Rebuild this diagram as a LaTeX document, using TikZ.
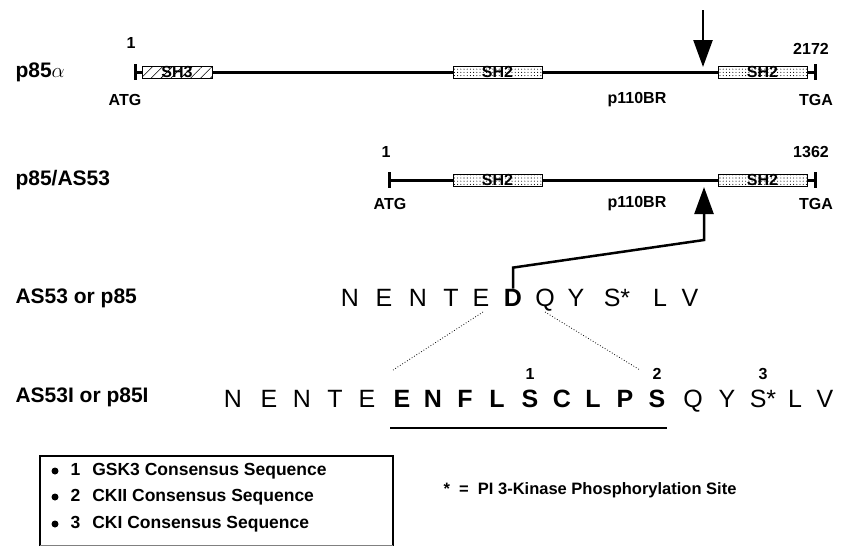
\documentclass[tikz,border=0pt]{standalone}
\usepackage{fontspec}
\setmainfont{Liberation Sans}
\usetikzlibrary{arrows.meta,positioning,patterns.meta}

\begin{document}
\begin{tikzpicture}[x=1pt,y=-1pt,
    gene/.style={line width=3pt},
    dom/.style={draw, line width=0.8pt, minimum width=89pt, minimum height=12pt,
      inner sep=0pt, font=\bfseries\fontsize{16}{16}\selectfont,
      preaction={fill=white}},
    hatch/.style={postaction={pattern={Lines[angle=45,distance=7pt,line width=0.6pt]}}},
    stipple/.style={postaction={pattern={Dots[distance=3.2pt,radius=0.55pt]}}},
    lbl/.style={anchor=west, font=\bfseries\fontsize{21}{21}\selectfont},
    small/.style={font=\bfseries\fontsize{16}{16}\selectfont},
    aa/.style={font=\fontsize{25}{25}\selectfont, inner sep=0pt, anchor=base},
    aab/.style={aa, font=\bfseries\fontsize{25}{25}\selectfont},
    keytext/.style={anchor=west, font=\bfseries\fontsize{17.5}{17.5}\selectfont},
    pointer/.style={-{Triangle[length=27pt,width=19pt]}, line width=2.5pt}
  ]
  \useasboundingbox (0,0) rectangle (842,546);

  % full length p85 alpha
  \node[lbl] (alpha) at (12,72) {p85$\alpha$};
  \coordinate (a-start) at (135,72);
  \coordinate (a-end) at (815,72);
  \draw[gene] (a-start) -- (a-end);
  \draw[gene] (135,64) -- (135,80);
  \draw[gene] (815,64) -- (815,80);
  \node[dom, minimum width=70pt, hatch] (sh3) at (177,72) {SH3};
  \node[dom, stipple] (a-sh2n) at (497.5,72) {SH2};
  \node[dom, stipple] (a-sh2c) at (762.5,72) {SH2};
  \node[small] (a-one) at (131,43) {1};
  \node[small] (a-atg) at (125,100) {ATG};
  \node[small] (a-len) at (811,49) {2172};
  \node[small] (a-tga) at (816,100) {TGA};
  \node[small] (a-br) at (637,100) {p110BR};
  \coordinate (cut-top) at (703,10);
  \coordinate (cut) at (703,67);
  \draw[pointer] (cut-top) -- (cut);

  % splice variant
  \node[lbl] (as53) at (12,180) {p85/AS53};
  \coordinate (b-start) at (389,180);
  \coordinate (b-end) at (815,180);
  \draw[gene] (b-start) -- (b-end);
  \draw[gene] (389,172) -- (389,188);
  \draw[gene] (815,172) -- (815,188);
  \node[dom, stipple] (b-sh2n) at (497.5,180) {SH2};
  \node[dom, stipple] (b-sh2c) at (762.5,180) {SH2};
  \node[small] (b-one) at (386,152) {1};
  \node[small] (b-atg) at (390,204) {ATG};
  \node[small] (b-len) at (811,152) {1362};
  \node[small] (b-tga) at (816,204) {TGA};
  \node[small] (b-br) at (637,204) {p110BR};
  \coordinate (ins) at (704,187);

  % sequences
  \node[lbl] (seq1) at (12,298) {AS53 or p85};
  \foreach \ch/\xx [count=\i] in {N/350,E/384,N/418,T/451,E/481}
    \node[aa] (s\i) at (\xx,306) {\ch};
  \node[aab] (sD) at (513,306) {D};
  \foreach \ch/\xx [count=\i] in {Q/545,Y/576,S*/617,L/660,V/690}
    \node[aa] (t\i) at (\xx,306) {\ch};
  \draw[pointer] (sD.north) -- ++(0,-21) -- (704,240) -- (ins);

  \node[lbl] (seq2) at (12,397) {AS53I or p85I};
  \foreach \ch/\xx [count=\i] in {N/233,E/269,N/302,T/335,E/367}
    \node[aa] (u\i) at (\xx,407) {\ch};
  \foreach \ch/\xx [count=\i] in {E/402,N/433,F/465,L/497,S/530,C/562,L/593,P/625,S/657}
    \node[aab] (v\i) at (\xx,407) {\ch};
  \foreach \ch/\xx [count=\i] in {Q/693,Y/727,S*/763,L/795,V/825}
    \node[aa] (w\i) at (\xx,407) {\ch};
  \draw[line width=2pt] (390,428) -- (667,428);
  \draw[dotted, line width=0.8pt] (s5.base) ++(2,6) -- (393,370);
  \draw[dotted, line width=0.8pt] (t1.base) ++(0,6) -- (640,370);
  \node[small] (site1) at (v5.north) [above=6pt] {1};
  \node[small] (site2) at (v9.north) [above=6pt] {2};
  \node[small] (site3) at (w3.north) [above=6pt] {3};

  % key
  \draw[line width=2.5pt] (40,546) |- (393,456) -- (393,546);
  \draw[line width=0.5pt, gray] (40,545) -- (393,545);
  \foreach \num/\what/\yy in {1/GSK3/471,2/CKII/497,3/CKI/524}{
    \fill (55,\yy) circle (3.5pt);
    \node[keytext] (k\num) at (67,\yy) {\num\hspace{12pt}\what{} Consensus Sequence};
  }
  \node[keytext, font=\bfseries\fontsize{16.5}{16.5}\selectfont] (star) at (440,490) {*\ \ =\ \ PI 3-Kinase Phosphorylation Site};
\end{tikzpicture}
\end{document}
